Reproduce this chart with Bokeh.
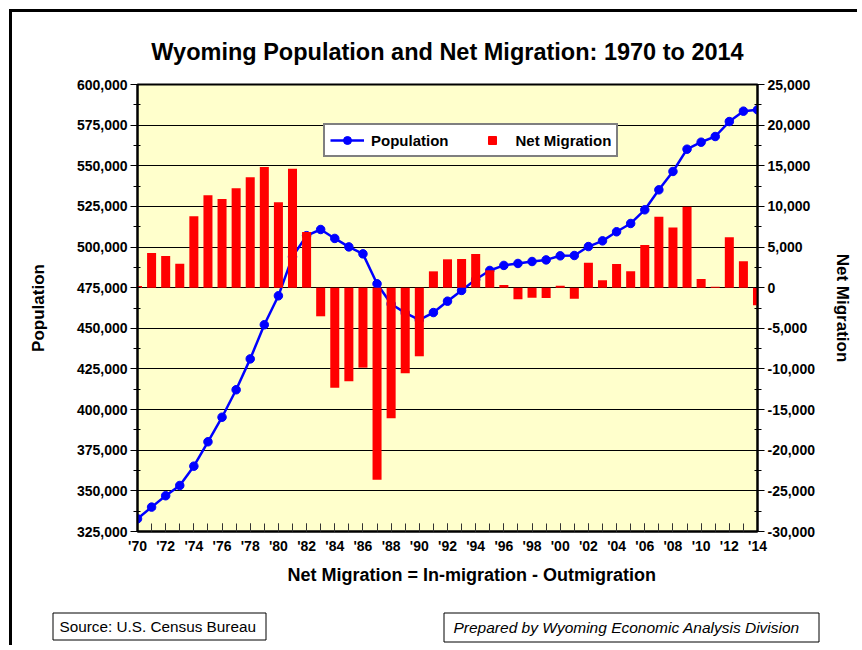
from bokeh.plotting import figure
from bokeh.layouts import column
from bokeh.models import (Range1d, LinearAxis, FixedTicker, SingleIntervalTicker,
                          NumeralTickFormatter, ColumnDataSource, Legend, LegendItem, Title)
from bokeh.core.properties import value
from bokeh.embed import file_html
from bokeh.resources import INLINE

# ---------------- data ----------------
years = [1970, 1971, 1972, 1973, 1974, 1975, 1976, 1977, 1978, 1979,
         1980, 1981, 1982, 1983, 1984, 1985, 1986, 1987, 1988, 1989,
         1990, 1991, 1992, 1993, 1994, 1995, 1996, 1997, 1998, 1999,
         2000, 2001, 2002, 2003, 2004, 2005, 2006, 2007, 2008, 2009,
         2010, 2011, 2012, 2013, 2014]

population = [332800, 340000, 347000, 353300, 365200, 380200, 395300, 412200, 431200, 452200,
              470000, 494000, 507000, 510800, 505300, 500100, 495800, 477400, 465000, 459500,
              455200, 459700, 466700, 473300, 480000, 485600, 488700, 489900, 491100, 492100,
              494600, 494800, 500300, 503800, 509400, 514500, 522900, 535200, 546500, 560200,
              564500, 568000, 577200, 583600, 584400]

net_migration = [200, 4270, 3900, 2950, 8780, 11360, 10910, 12220, 13580, 14850,
                 10500, 14640, 6850, -3520, -12300, -11510, -9840, -23620, -16070, -10530,
                 -8440, 2010, 3490, 3530, 4140, 2140, 330, -1430, -1230, -1270,
                 250, -1350, 3080, 900, 2920, 2010, 5250, 8740, 7390, 9970,
                 1070, 120, 6200, 3250, -2170]

tick_years = [1970, 1972, 1974, 1976, 1978, 1980, 1982, 1984, 1986, 1988, 1990, 1992,
              1994, 1996, 1998, 2000, 2002, 2004, 2006, 2008, 2010, 2012, 2014]
tick_labels = ["'70", "'72", "'74", "'76", "'78", "'80", "'82", "'84", "'86", "'88", "'90", "'92",
               "'94", "'96", "'98", "'00", "'02", "'04", "'06", "'08", "'10", "'12", "'14"]

title_text = "Wyoming Population and Net Migration: 1970 to 2014"
xlabel_text = "Net Migration = In-migration - Outmigration"
source_text = "Source: U.S. Census Bureau"
prepared_text = "Prepared by Wyoming Economic Analysis Division"

FONT = "Liberation Sans"

# ---------------- main figure ----------------
p = figure(width=848, height=580, output_backend="svg", toolbar_location=None,
           x_range=Range1d(1970, 2014), y_range=Range1d(325000, 600000),
           min_border_left=125, min_border_right=103, min_border_top=72, min_border_bottom=61,
           background_fill_color="#FFFFCC", border_fill_color="white")
p.frame_align = False
p.extra_y_ranges = {"mig": Range1d(-30000, 25000), "legend_only": Range1d(1e8, 2e8)}

p.outline_line_color = "black"
p.outline_line_width = 2

# title
p.title.text = title_text
p.title.text_font = FONT
p.title.text_font_size = "23.5px"
p.title.text_font_style = "bold"
p.title.text_color = "black"
p.title.align = "center"
p.title.standoff = 39

# grid
p.xgrid.visible = False
left_ticker = SingleIntervalTicker(interval=25000, num_minor_ticks=2)
p.ygrid.ticker = left_ticker
p.ygrid.grid_line_color = "black"
p.ygrid.grid_line_width = 1

# x axis
xa = p.xaxis[0]
xa.ticker = FixedTicker(ticks=tick_years, minor_ticks=years)
xa.major_label_overrides = {y: l for y, l in zip(tick_years, tick_labels)}
xa.major_tick_in = 8
xa.major_tick_out = 0
xa.minor_tick_in = 8
xa.minor_tick_out = 0
xa.major_tick_line_color = "#333333"
xa.minor_tick_line_color = "#333333"
xa.major_label_standoff = 6

# x axis caption (offset to the right as in the original)
xcap = Title(text=xlabel_text, align="left", offset=150, standoff=12,
             text_font=FONT, text_font_size="18px", text_font_style="bold",
             text_color="black")
p.add_layout(xcap, "below")

# left y axis
ya = p.yaxis[0]
ya.ticker = left_ticker
ya.formatter = NumeralTickFormatter(format="0,0")
ya.axis_label = "Population"
ya.major_tick_out = 7
ya.major_tick_in = 0
ya.minor_tick_out = 4
ya.minor_tick_in = 3
ya.major_label_standoff = 3
ya.axis_label_standoff = 26

# right y axis
ra = LinearAxis(y_range_name="mig",
                ticker=SingleIntervalTicker(interval=5000, num_minor_ticks=2),
                formatter=NumeralTickFormatter(format="0,0"),
                axis_label="Net Migration")
ra.major_tick_out = 7
ra.major_tick_in = 0
ra.minor_tick_out = 4
ra.minor_tick_in = 3
ra.major_label_standoff = 3
ra.axis_label_standoff = 15
p.add_layout(ra, "right")

for ax in [xa, ya, ra]:
    ax.axis_line_color = "black"
    ax.axis_line_width = 2
    ax.major_label_text_font = FONT
    ax.major_label_text_font_style = "bold"
    ax.major_label_text_font_size = "14px"
    ax.major_label_text_color = "black"
    ax.axis_label_text_font = FONT
    ax.axis_label_text_font_style = "bold"
    ax.axis_label_text_font_size = "17px"
    ax.axis_label_text_color = "black"

# ---------------- glyphs ----------------
src = ColumnDataSource(dict(year=years, pop=population, mig=net_migration))

ln = p.line("year", "pop", source=src, line_color="#0000FF", line_width=2.5)
sc = p.scatter("year", "pop", source=src, marker="circle", size=8.5,
               fill_color="#0000FF", line_color="#0000FF")
bars = p.vbar(x="year", top="mig", bottom=0, width=0.64, source=src, y_range_name="mig",
              fill_color="#FF0000", line_color=None)
# square marker used only as the legend symbol (its range keeps it out of view)
sq = p.scatter("year", "mig", source=src, y_range_name="legend_only", marker="square",
               size=10, fill_color="#FF0000", line_color="#FF0000")

legend = Legend(items=[LegendItem(label="Population", renderers=[ln, sc]),
                       LegendItem(label="Net Migration", renderers=[sq])],
                location=(186, 374), orientation="horizontal")
legend.label_text_font = FONT
legend.label_text_font_style = "bold"
legend.label_text_font_size = "15px"
legend.label_text_color = "black"
legend.glyph_width = 34
legend.glyph_height = 20
legend.label_standoff = 7
legend.spacing = 26
legend.padding = 5
legend.margin = 0
legend.border_line_color = "black"
legend.border_line_width = 2
legend.background_fill_color = "white"
legend.background_fill_alpha = 1
p.add_layout(legend)

# ---------------- footer with the two note boxes ----------------
f = figure(width=848, height=56, output_backend="svg", toolbar_location=None,
           x_range=Range1d(0, 848), y_range=Range1d(56, 0),
           x_axis_type=None, y_axis_type=None, min_border=0,
           border_fill_color="white", background_fill_color="white")
f.frame_align = False
f.outline_line_color = None
f.xgrid.visible = False
f.ygrid.visible = False

f.quad(left=[40.5, 431.5], right=[253.5, 806.5], top=[20.5, 20.5], bottom=[47.5, 49.5],
       fill_color="white", line_color="black", line_width=1)
f.text(x=[47], y=[34], text=[source_text], text_font=value(FONT), text_font_size="15.3px",
       text_align="left", text_baseline="middle", text_color="black")
f.text(x=[441], y=[35], text=[prepared_text], text_font=value(FONT), text_font_size="15.5px",
       text_font_style="italic", text_align="left", text_baseline="middle", text_color="black")

root = column(p, f, spacing=0, margin=(12, 0, 0, 12),
              styles={"box-shadow": "-3px -3px 0 0 #000000"})

open("out.html", "w").write(file_html(root, INLINE))
